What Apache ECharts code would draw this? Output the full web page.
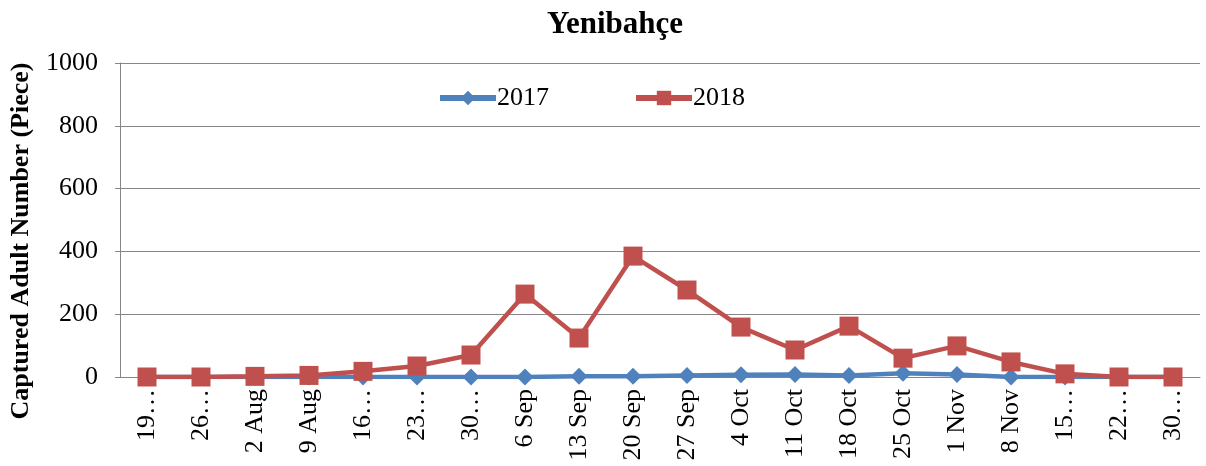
<!DOCTYPE html>
<html>
<head>
<meta charset="utf-8">
<script src="https://cdn.jsdelivr.net/npm/echarts@6/dist/echarts.min.js"></script>
<style>
  html, body { margin: 0; padding: 0; background: #fff; }
  #chart { width: 1206px; height: 466px; }
</style>
</head>
<body>
<div id="chart"></div>
<script>
// Weekly sampling dates (long labels truncated as in the source)
const categories = [
  '19…', '26…', '2 Aug', '9 Aug', '16…', '23…', '30…', '6 Sep', '13 Sep', '20 Sep',
  '27 Sep', '4 Oct', '11 Oct', '18 Oct', '25 Oct', '1 Nov', '8 Nov', '15…', '22…', '30…'
]
const values2017 = [0, 0, 0, 0, 0, 0, 0, 0, 2, 2, 5, 7, 8, 5, 12, 8, 0, 0, 0, 0]
const values2018 = [0, 0, 2, 5, 18, 35, 70, 264, 124, 385, 277, 159, 86, 162, 60, 99, 48, 10, 0, 0]
const yTicks = { min: 0, max: 1000, interval: 200 }

const font = 'Liberation Serif, Times New Roman, serif'
const chart = echarts.init(document.getElementById('chart'))

chart.setOption({
  animation: false,
  title: {
    text: 'Yenibahçe',
    left: 542,
    top: 4,
    textStyle: { fontFamily: font, fontSize: 31, fontWeight: 'bold', color: '#000' }
  },
  legend: {
    top: 80,
    left: 432,
    itemGap: 84,
    itemWidth: 56,
    itemHeight: 18,
    lineStyle: { width: 6 },
    textStyle: { fontFamily: font, fontSize: 26, color: '#000', padding: [0, 0, 0, -4] },
    data: ['2017', '2018']
  },
  grid: { left: 120, right: 6, top: 63, bottom: 89 },
  xAxis: {
    type: 'category',
    data: categories,
    boundaryGap: true,
    axisLine: { lineStyle: { color: '#868686', width: 1 } },
    axisTick: { show: false },
    axisLabel: {
      rotate: 90,
      interval: 0,
      margin: 12,
      fontFamily: font,
      fontSize: 26,
      color: '#000'
    }
  },
  yAxis: {
    type: 'value',
    min: yTicks.min,
    max: yTicks.max,
    interval: yTicks.interval,
    name: 'Captured Adult Number (Piece)',
    nameLocation: 'middle',
    nameGap: 86,
    nameTextStyle: {
      fontFamily: font,
      fontSize: 26,
      fontWeight: 'bold',
      color: '#000',
      padding: [0, 42, 0, 0]
    },
    axisLine: { show: true, lineStyle: { color: '#868686', width: 1 } },
    axisTick: { show: true, length: 5, lineStyle: { color: '#868686' } },
    axisLabel: {
      fontFamily: font,
      fontSize: 26,
      color: '#000',
      margin: 22,
      formatter: v => String(v)
    },
    splitLine: { lineStyle: { color: '#868686', width: 1 } }
  },
  series: [
    {
      name: '2017',
      type: 'line',
      data: values2017,
      symbol: 'diamond',
      symbolSize: 17,
      lineStyle: { color: '#4F81BD', width: 4.5 },
      itemStyle: { color: '#4F81BD' },
      z: 2
    },
    {
      name: '2018',
      type: 'line',
      data: values2018,
      symbol: 'rect',
      symbolSize: 19,
      lineStyle: { color: '#C0504D', width: 4.5 },
      itemStyle: { color: '#C0504D' },
      z: 3
    }
  ]
})
</script>
</body>
</html>
